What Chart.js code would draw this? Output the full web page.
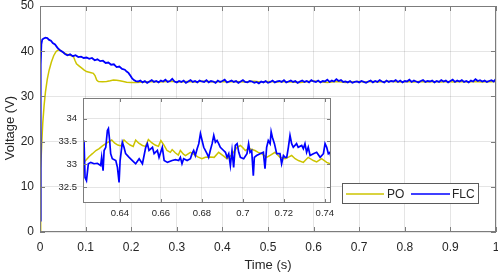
<!DOCTYPE html>
<html><head><meta charset="utf-8">
<script src="https://cdn.jsdelivr.net/npm/chart.js@4.4.0/dist/chart.umd.min.js"></script>
<style>
html,body{margin:0;padding:0;background:#fff;}
#wrap{position:relative;width:498px;height:275px;overflow:hidden;background:#fff;}
#main{position:absolute;left:0;top:0;}
#inset{position:absolute;left:44px;top:94px;}
</style></head><body>
<div id="wrap">
<canvas id="main" width="498" height="275"></canvas>
<canvas id="inset" width="292" height="130"></canvas>
</div>
<script>
// ---------- tick labels ----------
const mainXTicks = [0,0.1,0.2,0.3,0.4,0.5,0.6,0.7,0.8,0.9,1];
const mainXTickLabels = ['0','0.1','0.2','0.3','0.4','0.5','0.6','0.7','0.8','0.9','1'];
const mainYTicks = [0,10,20,30,40,50];
const mainYTickLabels = ['0','10','20','30','40','50'];
const insetXTicks = [0.64,0.66,0.68,0.7,0.72,0.74];
const insetXTickLabels = ['0.64','0.66','0.68','0.7','0.72','0.74'];
const insetYTicks = [32.5,33,33.5,34];
const insetYTickLabels = ['32.5','33','33.5','34'];
const seriesNames = ['PO','FLC'];
const xTitle = 'Time (s)';
const yTitle = 'Voltage (V)';

// ---------- PO (main) ----------
const poTransientTime = [0,0.001,0.002,0.004,0.006,0.009,0.012,0.016,0.02,0.025,0.03,0.035,0.04,0.045,0.05,0.055,0.06,0.065,0.07,0.073,0.077,0.08,0.086,0.091,0.097,0.102,0.11,0.117,0.1206,0.1243,0.128,0.137,0.146,0.154,0.161,0.168,0.175,0.183,0.19,0.2,0.21,0.22];
const poTransientVolt = [0,10,14,20,24,28,31,33.8,35.8,37.6,39,39.9,40.3,40.1,39.8,39.5,39.3,39.1,39.0,38.9,37.9,37.2,36.7,36.3,35.8,35.5,35.3,35.1,34.6,33.6,33.3,33.25,33.3,33.45,33.6,33.55,33.45,33.3,33.15,33.1,33.1,33.15];
const poSteadyStart = 0.23, poSteadyStep = 0.01;
const poSteadyVolt = [
33.2,33.25,33.3,33.2,33.25,33.3,33.35,33.25,33.2,33.3,
33.25,33.2,33.3,33.35,33.3,33.2,33.25,33.3,33.2,33.25,
33.3,33.25,33.2,33.3,33.35,33.25,33.2,33.3,33.25,33.2,
33.3,33.25,33.2,33.15,33.1,33.2,33.3,33.4,33.3,33.2,
33.1,33.2,33.3,33.2,33.1,33.2,33.25,33.3,33.2,33.25,
33.3,33.2,33.25,33.3,33.35,33.25,33.2,33.3,33.25,33.2,
33.3,33.25,33.2,33.3,33.25,33.2,33.3,33.25,33.2,33.3,
33.25,33.2,33.3,33.25,33.2,33.3,33.25,33.3];

// ---------- FLC (main) ----------
const flcTransientTime = [0,0.001,0.002,0.003,0.005,0.008,0.012,0.016,0.02,0.024,0.028,0.033,0.038,0.044,0.05,0.055,0.06,0.066,0.072,0.078,0.084,0.09,0.096,0.102,0.108,0.114,0.12,0.126,0.132,0.138,0.144,0.15,0.156,0.162,0.168,0.174,0.18,0.186,0.19,0.194,0.198,0.202,0.206,0.21,0.215];
const flcTransientVolt = [2.5,22,37,41.5,42.6,42.8,43.0,42.9,42.5,42.3,41.8,41.5,40.8,40.2,39.8,39.4,39.1,39.3,38.9,39.1,38.7,38.8,38.5,38.6,38.3,38.5,38.0,38.2,37.8,37.9,37.4,37.5,37.0,37.1,36.5,36.6,36.1,35.9,35.5,35.2,34.6,34.0,33.6,33.4,33.3];
const flcSteadyStart = 0.22, flcSteadyStep = 0.005;
const flcSteadyVolt = [
33.5,33.1,33.4,33.0,33.3,33.6,33.2,33.4,33.1,33.5,
33.3,33.7,33.2,33.4,33.9,33.3,33.1,33.4,33.2,33.5,
33.0,33.3,33.6,33.2,33.4,33.1,33.5,33.3,33.2,33.6,
33.1,33.4,33.3,33.0,33.5,33.2,33.4,33.7,33.1,33.3,
33.5,33.2,33.4,33.0,33.3,33.6,33.2,33.1,33.4,33.3,
33.0,33.2,32.9,33.3,33.1,33.4,33.0,33.2,33.5,33.1,
33.3,33.4,33.2,33.6,33.1,33.3,33.5,33.2,33.4,33.0,
33.3,33.5,33.2,33.4,33.1,33.6,33.3,33.2,33.5,33.1,
33.4,33.3,33.7,33.2,33.5,33.3,33.8,33.4,33.6,33.2,
33.3,33.1,33.4,33.0,33.2,33.3,33.1,33.4,33.2,33.0,
33.3,33.5,33.1,33.4,33.2,33.6,33.3,33.1,33.5,33.2,
33.4,33.3,33.6,33.2,33.5,33.1,33.4,33.3,33.7,33.2,
33.5,33.3,33.1,33.4,33.6,33.2,33.4,33.3,33.5,33.1,
33.4,33.2,33.6,33.3,33.5,33.1,33.4,33.7,33.2,33.5,
33.3,33.6,33.2,33.4,33.1,33.5,33.3,33.8,33.4,33.6,
33.3,33.5,33.2,33.4,33.6,33.3,33.9];

// ---------- inset (zoom 0.622 - 0.743 s) ----------
const poInsetTime = [0.6217,0.6233,0.625,0.6266,0.6283,0.6299,0.6315,0.6331,0.6345,0.636,0.6375,0.639,0.6405,0.642,0.6435,0.645,0.6465,0.6477,0.6492,0.651,0.6525,0.6539,0.6555,0.6572,0.6588,0.66,0.6615,0.663,0.6646,0.6655,0.667,0.6685,0.6695,0.671,0.672,0.6744,0.676,0.678,0.68,0.6817,0.684,0.686,0.6882,0.69,0.6923,0.6945,0.696,0.6972,0.6988,0.7,0.7012,0.7028,0.7045,0.7059,0.7075,0.7092,0.7116,0.7135,0.7157,0.717,0.7181,0.7206,0.7225,0.7238,0.7255,0.7271,0.7295,0.7319,0.7344,0.736,0.7384,0.7409,0.7425,0.7433];
const poInsetVolt = [33.02,33.08,33.17,33.23,33.3,33.34,33.4,33.45,33.49,33.53,33.46,33.42,33.4,33.53,33.47,33.42,33.39,33.53,33.46,33.41,33.39,33.54,33.47,33.42,33.39,33.52,33.42,33.3,33.26,33.32,33.25,33.2,33.3,33.22,33.19,33.26,33.22,33.16,33.12,33.15,33.16,33.15,33.26,33.2,33.12,33.2,33.3,33.37,33.41,33.36,33.3,33.34,33.32,33.3,33.26,33.23,33.15,33.2,33.26,33.2,33.15,33.12,33.16,33.19,33.12,33.08,33.04,33.15,33.08,33.05,33.12,33.04,33.01,33.04];
const flcInsetTime = [0.6217,0.6225,0.623,0.6237,0.6246,0.6258,0.6274,0.629,0.6306,0.6311,0.6318,0.6323,0.6331,0.6339,0.6344,0.635,0.6355,0.6363,0.638,0.6388,0.6396,0.6401,0.6412,0.642,0.6428,0.6445,0.6461,0.6477,0.6494,0.651,0.6526,0.6534,0.6542,0.6559,0.6567,0.6583,0.6591,0.6607,0.6616,0.6632,0.6655,0.6671,0.6687,0.6695,0.6703,0.6711,0.6728,0.6744,0.6752,0.676,0.6768,0.6777,0.6785,0.6793,0.6801,0.6809,0.6825,0.6833,0.6841,0.685,0.6858,0.6866,0.6874,0.6882,0.689,0.6906,0.6915,0.6923,0.6931,0.6939,0.6947,0.6955,0.6963,0.6972,0.698,0.6988,0.7004,0.702,0.7028,0.7035,0.7043,0.7051,0.7056,0.7067,0.7084,0.71,0.7108,0.7116,0.7124,0.7133,0.7138,0.7144,0.7154,0.7165,0.7181,0.7189,0.7198,0.7206,0.7214,0.7222,0.723,0.7238,0.7246,0.7262,0.727,0.7287,0.7295,0.7303,0.7311,0.7319,0.7328,0.7344,0.736,0.7377,0.7393,0.7401,0.7409,0.7417,0.7425,0.7433];
const flcInsetVolt = [32.9,33.52,32.71,32.64,33.01,33.04,33.01,33.02,32.97,33.15,32.86,33.3,33.37,33.74,33.78,33.52,33.23,33.12,33.08,32.93,32.6,33.08,33.48,33.37,33.23,33.15,33.08,33.01,33.12,33.01,33.37,33.45,33.3,33.37,33.23,33.3,33.15,33.37,33.08,33.04,33.08,33.1,33.08,33.15,33.01,33.12,33.08,33.12,33.23,33.3,33.19,33.34,33.45,33.67,33.52,33.37,33.23,33.15,33.3,33.45,33.63,33.48,33.52,33.45,33.37,33.3,33.26,33.15,33.23,32.97,33.3,32.93,33.41,33.45,33.26,33.15,33.12,33.23,33.45,33.26,33.3,32.75,33.15,33.19,33.23,33.26,32.9,33.37,33.52,33.45,33.71,33.59,33.45,33.23,33.23,33.01,33.19,33.15,33.15,33.37,33.63,33.45,33.37,33.45,33.37,33.41,33.34,33.45,33.26,33.37,33.19,33.23,33.26,33.15,33.23,33.45,33.37,33.23,33.26,33.08];

// ---------- build point tables ----------
const zip = (t, v) => t.map((x, i) => ({x, y: v[i]}));
const poMain = zip(poTransientTime, poTransientVolt).concat(poSteadyVolt.map((v, i) => ({x: +(poSteadyStart + i*poSteadyStep).toFixed(4), y: v})));
const flcMain = zip(flcTransientTime, flcTransientVolt).concat(flcSteadyVolt.map((v, i) => ({x: +(flcSteadyStart + i*flcSteadyStep).toFixed(4), y: v})));
const poInset = zip(poInsetTime, poInsetVolt);
const flcInset = zip(flcInsetTime, flcInsetVolt);

// ---------- styles ----------
const PO_COLOR = 'rgb(204,196,0)';
const FLC_COLOR = '#0000ff';
const TEXT = '#262626';
const GRID = 'rgba(0,0,0,0.1)';
const FRAME = '#7c7c7c';
const FONT = "'Liberation Sans', Arial, Helvetica, sans-serif";
Chart.defaults.font.family = FONT;
Chart.defaults.color = TEXT;

const framePlugin = {
  id: 'frame',
  beforeDraw(chart, args, o) {
    if (o.fill) {
      const a = chart.chartArea, c = chart.ctx;
      c.save(); c.fillStyle = o.fill;
      c.fillRect(a.left, a.top, a.right - a.left, a.bottom - a.top);
      c.restore();
    }
  },
  afterDatasetsDraw(chart, args, o) {
    const a = chart.chartArea, c = chart.ctx, L = o.tickLen;
    c.save();
    c.strokeStyle = FRAME; c.lineWidth = 1;
    c.beginPath();
    chart.scales.x.ticks.forEach(t => {
      const p = Math.round(chart.scales.x.getPixelForValue(t.value)) + 0.5;
      c.moveTo(p, a.bottom); c.lineTo(p, a.bottom - L);
      c.moveTo(p, a.top); c.lineTo(p, a.top + L);
    });
    chart.scales.y.ticks.forEach(t => {
      const p = Math.round(chart.scales.y.getPixelForValue(t.value)) + 0.5;
      c.moveTo(a.left, p); c.lineTo(a.left + L, p);
      c.moveTo(a.right, p); c.lineTo(a.right - L, p);
    });
    c.stroke();
    c.strokeRect(Math.round(a.left) + 0.5, Math.round(a.top) + 0.5, Math.round(a.right - a.left) - 1, Math.round(a.bottom - a.top) - 1);
    c.restore();
  }
};

const extrasPlugin = {
  id: 'extras',
  afterDraw(chart) {
    const c = chart.ctx;
    c.save();
    // y-axis title
    c.fillStyle = TEXT;
    c.font = '13px ' + FONT;
    c.translate(10, 128); c.rotate(-Math.PI / 2);
    c.textAlign = 'center'; c.textBaseline = 'middle';
    c.fillText(yTitle, 0, 0);
    c.restore();
    // legend box
    c.save();
    const bx = 342, by = 183, bw = 137, bh = 21, cy = by + bh / 2;
    c.fillStyle = '#fff'; c.fillRect(bx, by, bw, bh);
    c.strokeStyle = '#5a5a5a'; c.lineWidth = 1;
    c.strokeRect(bx + 0.5, by + 0.5, bw - 1, bh - 1);
    const ds = chart.data.datasets;
    const items = [{ds: ds[0], x0: 346, x1: 384, tx: 387}, {ds: ds[1], x0: 411, x1: 450, tx: 452}];
    c.font = '12px ' + FONT; c.textBaseline = 'middle'; c.textAlign = 'left';
    items.forEach(it => {
      c.strokeStyle = it.ds.borderColor; c.lineWidth = 1.5;
      c.beginPath(); c.moveTo(it.x0, cy + 0.5); c.lineTo(it.x1, cy + 0.5); c.stroke();
      c.fillStyle = TEXT; c.fillText(it.ds.label, it.tx, cy + 1);
    });
    c.restore();
  }
};

function fixedTicks(values) {
  return s => { s.ticks = values.map(v => ({value: v})); };
}

new Chart(document.getElementById('main'), {
  type: 'line',
  data: { datasets: [
    {label: seriesNames[0], data: poMain, borderColor: PO_COLOR, borderWidth: 1.5, pointRadius: 0, tension: 0, order: 2},
    {label: seriesNames[1], data: flcMain, borderColor: FLC_COLOR, borderWidth: 1.8, pointRadius: 0, tension: 0, order: 1}
  ]},
  options: {
    responsive: false, animation: false, events: [],
    layout: {padding: {top: 6, right: 2, left: 0, bottom: 0}},
    plugins: {legend: {display: false}, tooltip: {enabled: false}, frame: {tickLen: 5}},
    scales: {
      x: {
        type: 'linear', min: 0, max: 1,
        afterBuildTicks: fixedTicks(mainXTicks),
        afterFit: s => { s.height = 43; s.paddingLeft = 0; s.paddingRight = 0; },
        ticks: {autoSkip: false, maxRotation: 0, padding: 8, font: {size: 12}, color: TEXT, callback: (v, i) => mainXTickLabels[i]},
        grid: {color: GRID, drawTicks: false},
        border: {display: false},
        title: {display: true, text: xTitle, font: {size: 13}, color: TEXT, padding: {top: 0, bottom: 2}}
      },
      y: {
        type: 'linear', min: 0, max: 50,
        afterBuildTicks: fixedTicks(mainYTicks),
        afterFit: s => { s.width = 40; s.paddingTop = 0; s.paddingBottom = 0; },
        ticks: {autoSkip: false, padding: 6, font: {size: 12}, color: TEXT, callback: (v, i) => mainYTickLabels[i]},
        grid: {color: GRID, drawTicks: false},
        border: {display: false}
      }
    }
  },
  plugins: [framePlugin, extrasPlugin]
});

new Chart(document.getElementById('inset'), {
  type: 'line',
  data: { datasets: [
    {label: seriesNames[0], data: poInset, borderColor: PO_COLOR, borderWidth: 1.5, pointRadius: 0, tension: 0, order: 2},
    {label: seriesNames[1], data: flcInset, borderColor: FLC_COLOR, borderWidth: 1.7, pointRadius: 0, tension: 0, order: 1}
  ]},
  options: {
    responsive: false, animation: false, events: [],
    layout: {padding: {top: 4, right: 5, left: 0, bottom: 0}},
    plugins: {legend: {display: false}, tooltip: {enabled: false}, frame: {tickLen: 4, fill: '#ffffff'}},
    scales: {
      x: {
        type: 'linear', min: 0.622, max: 0.743,
        afterBuildTicks: fixedTicks(insetXTicks),
        afterFit: s => { s.height = 21; s.paddingLeft = 0; s.paddingRight = 0; },
        ticks: {autoSkip: false, maxRotation: 0, padding: 5, font: {size: 9.5}, color: TEXT, callback: (v, i) => insetXTickLabels[i]},
        grid: {color: GRID, drawTicks: false},
        border: {display: false}
      },
      y: {
        type: 'linear', min: 32.15, max: 34.45,
        afterBuildTicks: fixedTicks(insetYTicks),
        afterFit: s => { s.width = 39; s.paddingTop = 0; s.paddingBottom = 0; },
        ticks: {autoSkip: false, padding: 6, font: {size: 9.5}, color: TEXT, callback: (v, i) => insetYTickLabels[i]},
        grid: {color: GRID, drawTicks: false},
        border: {display: false}
      }
    }
  },
  plugins: [framePlugin]
});
</script>
</body></html>
